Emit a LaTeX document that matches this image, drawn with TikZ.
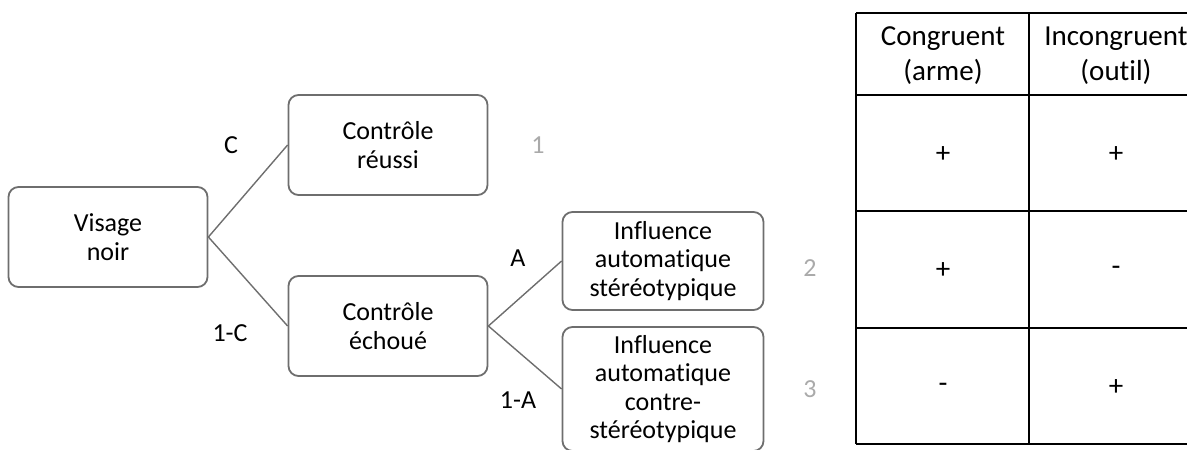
\documentclass[tikz,border=0pt]{standalone}
\usepackage{fontspec}
\setmainfont{Carlito}[Ligatures=NoCommon]
\usepackage{tikz}
\definecolor{boxline}{RGB}{110,110,110}
\definecolor{numgray}{RGB}{170,170,170}
\newcommand{\drawthick}{\draw[line width=1.5pt]}
\tikzset{
  etat/.style={draw=boxline, line width=1.8pt, rounded corners=10pt, align=center,
    minimum width=199pt, minimum height=100pt, inner sep=0pt},
  branche/.style={draw=boxline, line width=1.4pt},
  proba/.style={inner sep=0pt},
  issue/.style={text=numgray, inner sep=0pt},
  cellule/.style={align=center, inner sep=0pt, font=\fontsize{29}{35}\selectfont}
}
\begin{document}
\begin{tikzpicture}[x=1pt, y=-1pt, font=\fontsize{26}{28.5}\selectfont]
\useasboundingbox (0,0) rectangle (1187,450);
\clip (0,0) rectangle (1187,450);
% arbre
\node[etat] (visage) at (108,237) {Visage\\noir};
\node[etat] (reussi) at (388,145) {Contrôle\\réussi};
\node[etat] (echoue) at (388,326) {Contrôle\\échoué};
\node[etat, minimum width=201pt, minimum height=98pt] (stereo) at (663,261) {Influence\\automatique\\stéréotypique};
\node[etat, minimum width=201pt, minimum height=124pt] (contre) at (663,389) {Influence\\automatique\\contre-\\stéréotypique};
\draw[branche] (visage.east) -- (reussi.west);
\draw[branche] (visage.east) -- (echoue.west);
\draw[branche] (echoue.east) -- (stereo.west);
\draw[branche] (echoue.east) -- (contre.west);
\node[proba] (pc) at (231,145) {C};
\node[proba] (pnc) at (230,333) {1-C};
\node[proba] (pa) at (518,258) {A};
\node[proba] (pna) at (518,400) {1-A};
\node[issue] (un) at (538,145) {1};
\node[issue] (deux) at (810,268) {2};
\node[issue] (trois) at (810,389) {3};
% tableau
\foreach \y in {13,95,211,328,444}{
  \drawthick (856,\y)--(1205,\y);
}
\foreach \x in {856,1029}{
  \drawthick (\x,13)--(\x,444);
}
\node[cellule] (congr) at (943,56) {Congruent\\(arme)};
\node[cellule] (incongr) at (1116,56) {Incongruent\\(outil)};
\node[cellule] (a1) at (943,155) {+};\node[cellule] (b1) at (1116,155) {+};
\node[cellule] (a2) at (943,271) {+};\node[cellule] (b2) at (1116,271) {-};
\node[cellule] (a3) at (943,388) {-};\node[cellule] (b3) at (1116,388) {+};
\end{tikzpicture}
\end{document}
